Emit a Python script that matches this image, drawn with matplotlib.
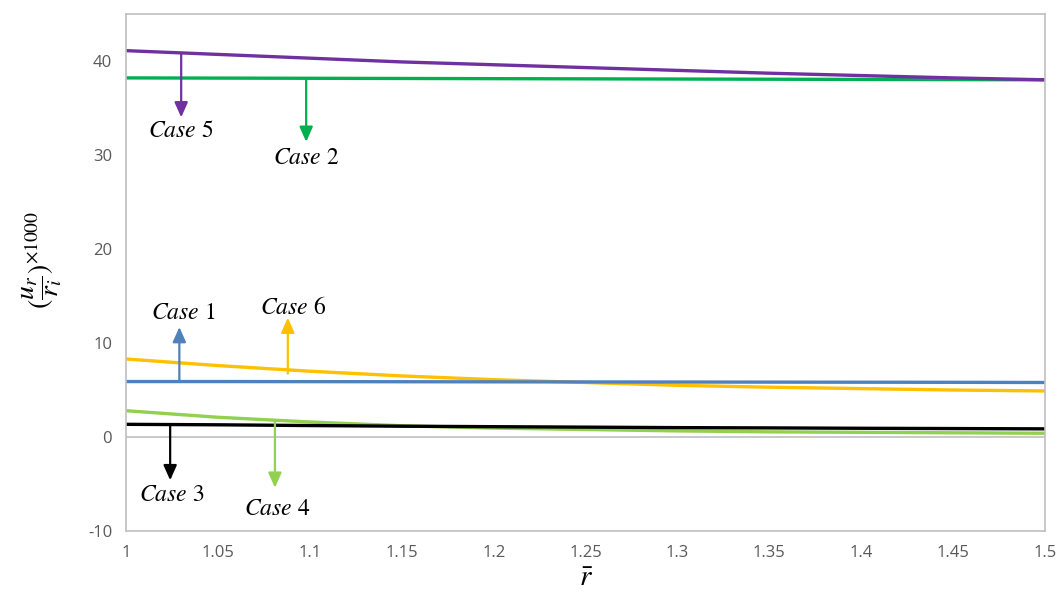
import matplotlib
matplotlib.use("Agg")
import matplotlib.pyplot as plt

r_bar = [1.0, 1.05, 1.1, 1.15, 1.2, 1.25, 1.3, 1.35, 1.4, 1.45, 1.5]
case1 = [5.9, 5.9, 5.89, 5.88, 5.87, 5.86, 5.85, 5.84, 5.83, 5.82, 5.8]
case2 = [38.2, 38.18, 38.16, 38.14, 38.12, 38.1, 38.08, 38.06, 38.04, 38.02, 38.0]
case3 = [1.35, 1.3, 1.22, 1.15, 1.1, 1.05, 1.0, 0.97, 0.93, 0.9, 0.87]
case4 = [2.8, 2.1, 1.6, 1.2, 0.95, 0.8, 0.65, 0.55, 0.5, 0.45, 0.4]
case5 = [41.1, 40.7, 40.3, 39.9, 39.6, 39.3, 39.0, 38.7, 38.45, 38.2, 38.0]
case6 = [8.3, 7.6, 7.0, 6.5, 6.1, 5.8, 5.5, 5.3, 5.15, 5.0, 4.9]

x_ticks = [1, 1.05, 1.1, 1.15, 1.2, 1.25, 1.3, 1.35, 1.4, 1.45, 1.5]
x_tick_labels = ["1", "1.05", "1.1", "1.15", "1.2", "1.25", "1.3", "1.35", "1.4", "1.45", "1.5"]
y_ticks = [-10, 0, 10, 20, 30, 40]

# annotation: (label, arrow x, arrow start y, arrow end y, text x, text y)
annotations = [
    ("5", 1.030, 40.75, 34.0, 1.030, 32.5),
    ("2", 1.098, 38.16, 31.4, 1.098, 29.6),
    ("1", 1.029, 5.9, 11.7, 1.031, 13.2),
    ("6", 1.088, 6.75, 12.7, 1.091, 13.7),
    ("3", 1.024, 1.25, -4.6, 1.025, -6.2),
    ("4", 1.081, 1.7, -5.4, 1.082, -7.7),
]

colors = {"1": "#4F81BD", "2": "#00B050", "3": "#000000",
          "4": "#92D050", "5": "#7030A0", "6": "#FFC000"}

plt.rcParams["mathtext.fontset"] = "stix"
plt.rcParams["axes.unicode_minus"] = False
fig = plt.figure(figsize=(10.61, 6.08), dpi=100)
ax = fig.add_axes([0.1188, 0.1266, 0.8662, 0.8504])

lw = 2.4
ax.plot(r_bar, case4, color=colors["4"], lw=lw)
ax.plot(r_bar, case3, color=colors["3"], lw=lw)
ax.plot(r_bar, case6, color=colors["6"], lw=lw)
ax.plot(r_bar, case1, color=colors["1"], lw=lw)
ax.plot(r_bar, case2, color=colors["2"], lw=lw)
ax.plot(r_bar, case5, color=colors["5"], lw=lw)

for lab, xa, y0, y1, xt, yt in annotations:
    ax.annotate("", xy=(xa, y1), xytext=(xa, y0),
                arrowprops=dict(arrowstyle="-|>,head_length=0.9,head_width=0.4",
                                color=colors[lab], lw=1.6, shrinkA=0, shrinkB=0))
    ax.text(xt, yt, r"$Case$ " + lab, ha="center", va="center",
            fontsize=17, family="STIXGeneral", color="black")

ax.set_xlim(1, 1.5)
ax.set_ylim(-10, 45)
ax.set_xticks(x_ticks)
ax.set_xticklabels(x_tick_labels)
ax.set_yticks(y_ticks)
ax.axhline(0, color="#BFBFBF", lw=1.2, zorder=0)
for s in ax.spines.values():
    s.set_color("#BFBFBF")
    s.set_linewidth(1.2)
ax.tick_params(axis="both", length=0, labelsize=12, labelcolor="#595959", pad=10)
for t in ax.get_xticklabels() + ax.get_yticklabels():
    t.set_family("Open Sans")

ax.set_xlabel(r"$\bar{r}$", fontsize=21, labelpad=2)
ax.set_ylabel(r"$(\dfrac{u_r}{r_i})^{\times 1000}$", fontsize=20)
ax.yaxis.set_label_coords(-0.068, 0.525)

fig.savefig("out.png", dpi=100)
